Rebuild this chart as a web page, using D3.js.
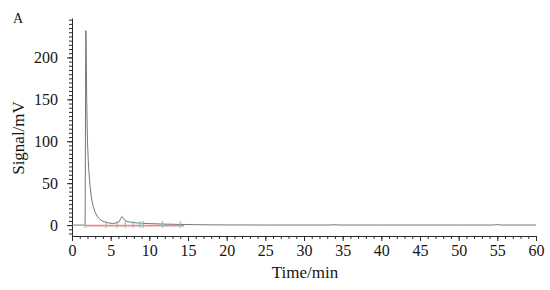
<!DOCTYPE html>
<html>
<head>
<meta charset="utf-8">
<script src="https://cdn.jsdelivr.net/npm/d3@7"></script>
<style>
body { margin: 0; background: #fff; }
text { font-family: "Liberation Serif", "Times New Roman", serif; fill: #151515; }
.axis path, .axis line { stroke: #2a2a2a; }
</style>
</head>
<body>
<div id="graph"></div>
<script>
// chromatogram trace
const times = [0, 1.6, 1.7, 1.78, 1.82, 1.9, 2.0, 2.1, 2.2, 2.35, 2.55, 2.75, 3.0, 3.3, 3.6, 4.0, 4.5, 5.2, 5.8, 6.1, 6.3, 6.45, 6.6, 6.8, 7.1, 7.5, 8.0, 8.5, 9.0, 10, 11, 12, 13, 14, 16, 18, 20, 25, 30, 33.5, 34, 34.5, 40, 45, 50, 54.5, 55, 55.5, 60];
const signal = [0, 0, 0.5, 232, 230, 150, 100, 78, 62, 45, 30, 22, 15, 10, 7, 4.5, 3, 2, 2.5, 4, 8, 10, 9, 6, 4.5, 3.5, 3, 2.5, 2.2, 1.8, 1.5, 1.2, 1, 0.8, 0.5, 0.3, 0.2, 0.1, 0.1, 0.1, 0.5, 0.1, 0.1, 0.1, 0.1, 0.1, 0.6, 0.1, 0.1];
// integration baseline and peak markers
const baseTimes = [1.7, 14.5];
const markTimes = [1.7, 4.4, 5.8, 6.9, 7.9, 8.8, 9.2, 11.7, 14.0];
const xTicks = d3.range(0, 61, 5);
const yTicks = [0, 50, 100, 150, 200];

const fullWidth = 550, fullHeight = 290;
const plotLeft = 72, plotRight = 536, plotTop = 18, plotBottom = 236;

const svg = d3.select("#graph").append("svg")
  .attr("width", fullWidth)
  .attr("height", fullHeight);

const x = d3.scaleLinear().domain([0, 60]).range([plotLeft, plotRight]);
const y = d3.scaleLinear().domain([-13, 247]).range([plotBottom, plotTop]);

// minor ticks
svg.append("g")
  .attr("class", "axis")
  .attr("transform", `translate(0,${plotBottom})`)
  .call(d3.axisBottom(x).tickValues(d3.range(0, 61, 1)).tickSize(3).tickFormat(""))
  .call(g => g.select(".domain").remove());
svg.append("g")
  .attr("class", "axis")
  .attr("transform", `translate(${plotLeft},0)`)
  .call(d3.axisLeft(y).tickValues(d3.range(-10, 246, 5)).tickSize(3).tickFormat(""))
  .call(g => g.select(".domain").remove());

// major ticks + labels
svg.append("g")
  .attr("class", "axis")
  .attr("transform", `translate(0,${plotBottom})`)
  .call(d3.axisBottom(x).tickValues(xTicks).tickSize(5).tickSizeOuter(0).tickPadding(4))
  .call(g => g.selectAll("text").style("font-size", "16px").style("font-family", "Liberation Serif"));
svg.append("g")
  .attr("class", "axis")
  .attr("transform", `translate(${plotLeft},0)`)
  .call(d3.axisLeft(y).tickValues(yTicks).tickSize(5).tickSizeOuter(0).tickPadding(9))
  .call(g => g.selectAll("text").style("font-size", "16px").style("font-family", "Liberation Serif"));

// red baseline
svg.append("line")
  .attr("x1", x(baseTimes[0])).attr("x2", x(baseTimes[1]))
  .attr("y1", y(0) + 0.5).attr("y2", y(0) + 0.5)
  .attr("stroke", "#f46a6a").attr("stroke-width", 1.6).attr("opacity", 0.8);

// trace
const line = d3.line()
  .x((d, i) => x(times[i]))
  .y(d => y(d));
svg.append("path")
  .datum(signal)
  .attr("d", line)
  .attr("fill", "none")
  .attr("stroke", "#777")
  .attr("stroke-width", 1);

// peak markers
svg.append("g").selectAll("line")
  .data(markTimes)
  .enter().append("line")
  .attr("x1", d => x(d)).attr("x2", d => x(d))
  .attr("y1", y(0) - 4).attr("y2", y(0) + 3)
  .attr("stroke", "#6fcfc6").attr("stroke-width", 1.2);

// titles
svg.append("text")
  .text("Time/min")
  .attr("x", (plotLeft + plotRight) / 2 + 1)
  .attr("y", 278)
  .attr("text-anchor", "middle")
  .style("font-size", "17px");

svg.append("text")
  .text("Signal/mV")
  .attr("transform", "translate(24,138) rotate(-90)")
  .attr("text-anchor", "middle")
  .style("font-size", "17px");

svg.append("text")
  .text("A")
  .attr("x", 13)
  .attr("y", 23)
  .style("font-size", "14px");
</script>
</body>
</html>
